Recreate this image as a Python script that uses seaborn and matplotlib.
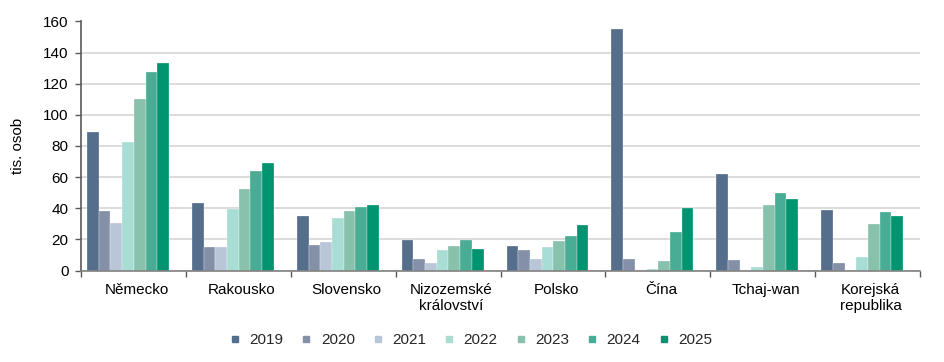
import matplotlib
matplotlib.use("Agg")
import matplotlib.pyplot as plt
import seaborn as sns
import pandas as pd
import numpy as np
from matplotlib.ticker import FixedLocator
from matplotlib.lines import Line2D

categories = ["Německo", "Rakousko", "Slovensko", "Nizozemské\nkrálovství", "Polsko",
              "Čína", "Tchaj-wan", "Korejská\nrepublika"]
years = ["2019", "2020", "2021", "2022", "2023", "2024", "2025"]

v2019 = [89.2, 43.5, 34.7, 19.9, 15.6, 155.3, 62.2, 38.8]
v2020 = [38.0, 15.4, 16.1, 7.3, 13.1, 7.1, 6.6, 4.5]
v2021 = [30.4, 15.0, 18.2, 4.5, 7.7, 0.0, 0.0, 0.0]
v2022 = [82.6, 39.6, 33.7, 13.1, 15.0, 0.7, 2.1, 8.6]
v2023 = [110.2, 52.5, 38.0, 15.6, 18.9, 6.2, 42.2, 30.2]
v2024 = [127.6, 63.7, 40.5, 19.3, 22.1, 24.8, 49.7, 37.3]
v2025 = [133.2, 69.0, 42.0, 13.5, 29.2, 40.3, 46.1, 35.1]

colors = ["#546E8C", "#8490A8", "#B8C6D8", "#A8DDD4", "#88C2AC", "#48AD94", "#009570"]

series = [v2019, v2020, v2021, v2022, v2023, v2024, v2025]
rows = []
for y, vals in zip(years, series):
    for c, v in zip(categories, vals):
        rows.append({"země": c, "rok": y, "hodnota": v})
df = pd.DataFrame(rows)

sns.set_theme(style="white")
plt.rcParams["font.family"] = ["Liberation Sans", "DejaVu Sans"]

fig = plt.figure(figsize=(9.45, 3.62), dpi=100)
ax = fig.add_axes([81/945, 1 - 270.5/362, (920-81)/945, (270.5-21.5)/362])

sns.barplot(data=df, x="země", y="hodnota", hue="rok", palette=colors,
            order=categories, hue_order=years, width=0.78, ax=ax,
            edgecolor="white", linewidth=0.2, legend=False, saturation=1)

n = len(categories)
shift = 0.052   # bar groups sit slightly left of the category centres
lshift = 0.03   # labels sit slightly right of the category centres
ax.set_ylim(0, 160)
ax.set_yticks(np.arange(0, 161, 20))
ax.set_xlim(-0.5 + shift, n - 0.5 + shift)
ax.set_xticks(np.arange(n) + shift + lshift, categories)
ax.yaxis.grid(True, color="#D9D9D9", linewidth=1.3)
ax.set_axisbelow(True)

for s in ["top", "right"]:
    ax.spines[s].set_visible(False)
ax.spines["left"].set_color("#595959")
ax.spines["left"].set_linewidth(1.2)
ax.spines["bottom"].set_color("#808080")
ax.spines["bottom"].set_linewidth(1.2)

ax.tick_params(axis="y", which="major", left=True, length=4, width=1, color="#595959",
               labelsize=11, labelcolor="#000000", pad=5)
ax.tick_params(axis="x", which="major", length=0, labelsize=11, labelcolor="#000000", pad=9)
ax.xaxis.set_minor_locator(FixedLocator(np.arange(-0.5, n, 1.0) + shift))
ax.tick_params(axis="x", which="minor", bottom=True, length=4, width=1, color="#595959")

ax.set_xlabel("")
ax.set_ylabel("tis. osob", fontsize=11, color="#000000")
ax.yaxis.set_label_coords(-56/839, 0.5)

handles = [Line2D([0], [0], marker="s", linestyle="none", markersize=5,
                  markerfacecolor=c, markeredgecolor=c) for c in colors]
fig.legend(handles, years, loc="center", bbox_to_anchor=(0.497, 1 - 340/362), ncol=7,
           frameon=False, fontsize=11, handletextpad=0.45, columnspacing=1.0,
           handlelength=1.0)

fig.savefig("out.png", dpi=100)
